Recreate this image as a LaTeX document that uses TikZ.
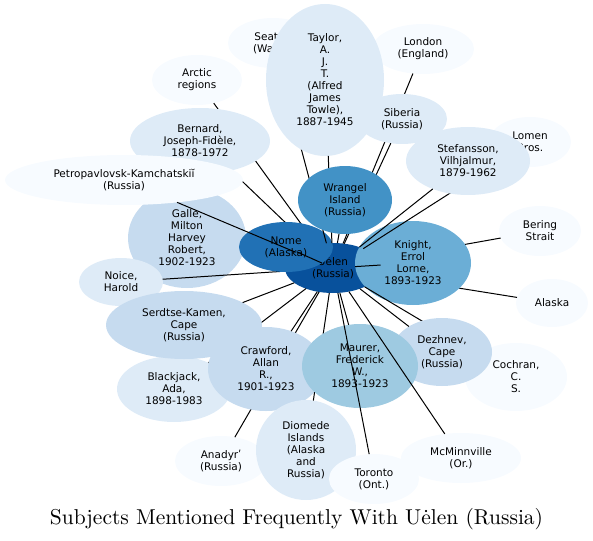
\documentclass[tikz,border=0pt]{standalone}
\usepackage{fontspec}
\newfontfamily\nodefont{DejaVu Sans}
\newfontfamily\captionfont{lmroman10-regular.otf}
\usetikzlibrary{shapes}
\definecolor{ba}{HTML}{F7FBFF}
\definecolor{bb}{HTML}{DEEBF7}
\definecolor{bc}{HTML}{C6DBEF}
\definecolor{bd}{HTML}{9ECAE1}
\definecolor{be}{HTML}{6BAED6}
\definecolor{bf}{HTML}{4292C6}
\definecolor{bg}{HTML}{2171B5}
\definecolor{bh}{HTML}{08519C}

\begin{document}
\begin{tikzpicture}[
    x=1pt, y=-1pt,
    font=\nodefont\fontsize{10.5}{12}\selectfont
]
\tikzset{
    topic/.style 2 args = {ellipse, draw=none, inner sep=0pt, outer sep=0pt,
        align=center, minimum width=#1pt, minimum height=#2pt},
    link/.style = {line width=1pt, black}
}
\useasboundingbox (0,0) rectangle (593,540);
\node[topic={96}{50}, fill=bh] at (333,268) (uelen) {Uėlen\\(Russia)};
\node[topic={118}{100}, fill=bc] at (187,238) (galle) {Galle,\\Milton\\Harvey\\Robert,\\1902-1923};
\draw[link] (uelen) -- (galle);
\node[topic={90}{50}, fill=ba] at (197,80) (arctic) {Arctic\\regions};
\draw[link] (uelen) -- (arctic);
\node[topic={140}{66}, fill=bb] at (200,141) (bernard) {Bernard,\\Joseph-Fidèle,\\1878-1972};
\draw[link] (uelen) -- (bernard);
\node[topic={84}{48}, fill=bb] at (121,282) (noice) {Noice,\\Harold};
\draw[link] (uelen) -- (noice);
\node[topic={94}{50}, fill=bg] at (286,247) (nome) {Nome\\(Alaska)};
\draw[link] (uelen) -- (nome);
\node[topic={238}{50}, fill=ba] at (124,180) (petro) {Petropavlovsk-Kamchatskiĭ\\(Russia)};
\draw[link] (uelen) -- (petro);
\node[topic={90}{50}, fill=ba] at (273,43) (seattle) {Seattle\\(Wash.)};
\draw[link] (uelen) -- (seattle);
\node[topic={102}{50}, fill=ba] at (423,49) (london) {London\\(England)};
\draw[link] (uelen) -- (london);
\node[topic={118}{152}, fill=bb] at (325,80) (taylor) {Taylor,\\A.\\J.\\T.\\(Alfred\\James\\Towle),\\1887-1945};
\draw[link] (uelen) -- (taylor);
\node[topic={90}{50}, fill=bb] at (402,119) (siberia) {Siberia\\(Russia)};
\draw[link] (uelen) -- (siberia);
\node[topic={94}{68}, fill=bf] at (345,200) (wrangel) {Wrangel\\Island\\(Russia)};
\draw[link] (uelen) -- (wrangel);
\node[topic={82}{50}, fill=ba] at (540,231) (bering) {Bering\\Strait};
\draw[link] (uelen) -- (bering);
\node[topic={72}{48}, fill=ba] at (552,303) (alaska) {Alaska};
\draw[link] (uelen) -- (alaska);
\node[topic={116}{84}, fill=be] at (413,263) (knight) {Knight,\\Errol\\Lorne,\\1893-1923};
\draw[link] (uelen) -- (knight);
\node[topic={82}{50}, fill=ba] at (530,142) (lomen) {Lomen\\Bros.};
\draw[link] (uelen) -- (lomen);
\node[topic={124}{68}, fill=bb] at (468,161) (stefansson) {Stefansson,\\Vilhjalmur,\\1879-1962};
\draw[link] (uelen) -- (stefansson);
\node[topic={92}{50}, fill=ba] at (221,461) (anadyr) {Anadyrʹ\\(Russia)};
\draw[link] (uelen) -- (anadyr);
\node[topic={114}{66}, fill=bb] at (174,389) (blackjack) {Blackjack,\\Ada,\\1898-1983};
\draw[link] (uelen) -- (blackjack);
\node[topic={156}{68}, fill=bc] at (184,325) (serdtse) {Serdtse-Kamen,\\Cape\\(Russia)};
\draw[link] (uelen) -- (serdtse);
\node[topic={116}{84}, fill=bc] at (266,369) (crawford) {Crawford,\\Allan\\R.,\\1901-1923};
\draw[link] (uelen) -- (crawford);
\node[topic={102}{68}, fill=ba] at (516,377) (cochran) {Cochran,\\C.\\S.};
\draw[link] (uelen) -- (cochran);
\node[topic={100}{68}, fill=bc] at (442,352) (dezhnev) {Dezhnev,\\Cape\\(Russia)};
\draw[link] (uelen) -- (dezhnev);
\node[topic={100}{100}, fill=bb] at (306,450) (diomede) {Diomede\\Islands\\(Alaska\\and\\Russia)};
\draw[link] (uelen) -- (diomede);
\node[topic={116}{84}, fill=bd] at (360,366) (maurer) {Maurer,\\Frederick\\W.,\\1893-1923};
\draw[link] (uelen) -- (maurer);
\node[topic={90}{50}, fill=ba] at (374,479) (toronto) {Toronto\\(Ont.)};
\draw[link] (uelen) -- (toronto);
\node[topic={120}{50}, fill=ba] at (461,458) (mcminnville) {McMinnville\\(Or.)};
\draw[link] (uelen) -- (mcminnville);
% caption
\node[anchor=base, font=\captionfont\fontsize{21.5}{26}\selectfont] at (296.5,524) (caption)
    {Subjects Mentioned Frequently With Uėlen (Russia)};
\end{tikzpicture}
\end{document}
